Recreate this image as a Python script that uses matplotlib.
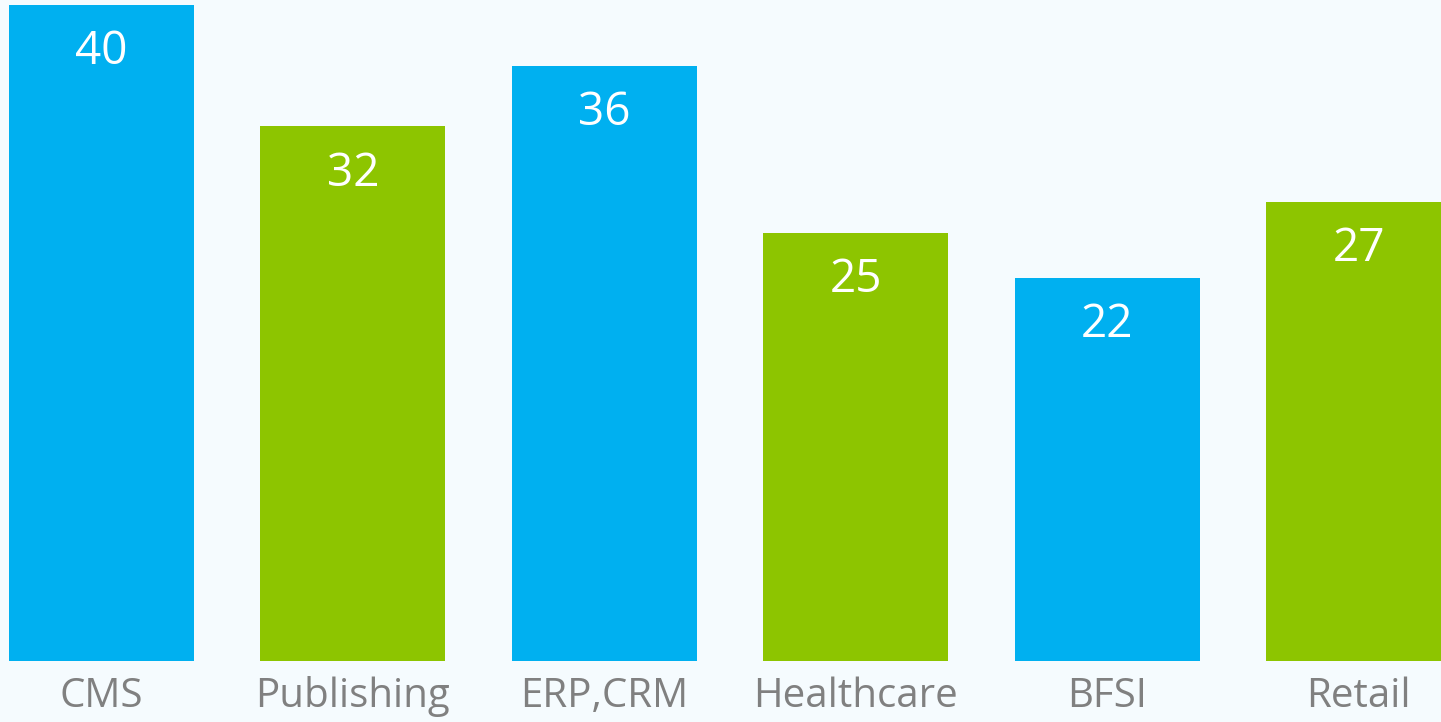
import matplotlib.pyplot as plt

# data
categories = ['CMS', 'Publishing', 'ERP,CRM', 'Healthcare', 'BFSI', 'Retail']
values = [40, 32, 36, 25, 22, 27]
colors = ['#00B0F0', '#8DC500', '#00B0F0', '#8DC500', '#00B0F0', '#8DC500']

plt.rcParams['font.family'] = ['Open Sans', 'DejaVu Sans']

bg = '#F5FBFE'
fig = plt.figure(figsize=(14.41, 7.22), dpi=100, facecolor=bg)
ax = fig.add_axes([0, 61 / 722, 1, 661 / 722])
ax.set_facecolor(bg)

# axis floor sits a little below zero, as in the original
floor = -3.25
x = list(range(len(categories)))
bars = ax.bar(x, [v - floor for v in values], bottom=floor, width=0.736,
              color=colors, linewidth=0)

for rect, v in zip(bars, values):
    ax.annotate(str(v), (rect.get_x() + rect.get_width() / 2, v),
                xytext=(0, -34), textcoords='offset points',
                ha='center', va='center', color='white', fontsize=33)

ax.set_xlim(-0.404, 5.328)
ax.set_ylim(floor, 40.33)
ax.set_xticks(x)
ax.set_xticklabels(categories, fontsize=29, color='#808080')
ax.tick_params(axis='x', length=0, pad=11)
ax.set_yticks([])
for s in ax.spines.values():
    s.set_visible(False)

fig.savefig('out.png', dpi=100, facecolor=bg)
